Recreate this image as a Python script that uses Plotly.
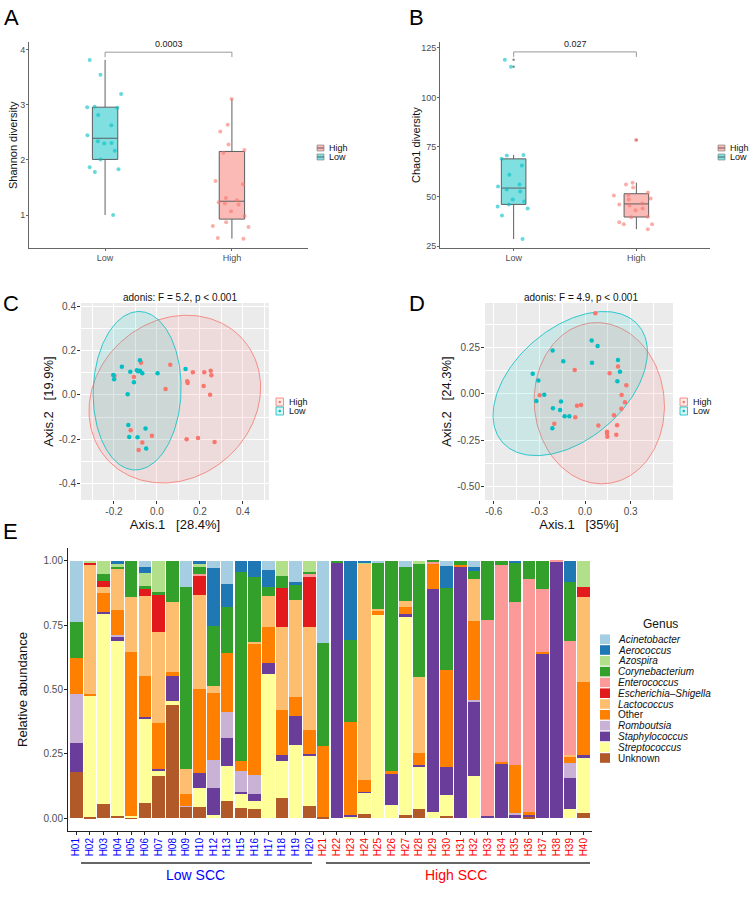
import numpy as np
import plotly.graph_objects as go

W, H = 750, 902
FONT = "Liberation Sans, Arial, Helvetica, sans-serif"
LOW_C = "#00BFC4"
HIGH_C = "#F8766D"
GREY_TXT = "#4D4D4D"

# ---------------- Panel A / B : alpha diversity ----------------
groups = ["Low", "High"]
shannon_low = [3.82, 3.55, 3.20, 2.96, 2.97, 2.95, 2.82, 2.63, 2.45, 2.34, 2.31, 2.30, 2.17, 2.01, 1.87, 1.83, 1.78, 1.00]
shannon_high = [3.11, 2.64, 2.52, 2.28, 2.18, 2.13, 1.62, 1.56, 1.31, 1.23, 1.27, 1.21, 1.19, 1.07, 0.98, 0.87, 0.80, 0.78, 0.58, 0.57]
chao1_low = [119, 115.5, 71, 70.7, 69, 65.6, 61, 56, 55, 53.5, 52.5, 48.5, 47.5, 46, 45, 44, 40.4, 28.5]
chao1_high = [78.5, 57, 56, 54.5, 52, 50.8, 50.5, 49, 48.5, 45.5, 46.5, 46, 44, 43, 39.8, 39.5, 37, 36, 36, 33.5]
p_shannon = "0.0003"
p_chao1 = "0.027"

# ---------------- Panel C / D : PCoA ----------------
c_low_x = [-0.079, -0.163, 0.133, -0.124, -0.093, -0.087, -0.079, -0.068, 0.003, -0.203, -0.199, -0.107, -0.136, -0.133, -0.053, -0.129, -0.090, -0.050]
c_low_y = [0.156, 0.127, 0.117, 0.105, 0.111, 0.107, 0.109, 0.098, 0.098, 0.090, 0.071, 0.057, 0.003, -0.135, -0.151, -0.189, -0.190, -0.240]
c_high_x = [-0.074, 0.062, 0.167, 0.220, 0.250, 0.253, -0.197, -0.107, 0.141, 0.143, 0.217, 0.040, 0.247, -0.122, -0.023, 0.138, 0.191, 0.268, -0.068, -0.085]
c_high_y = [0.145, 0.136, 0.102, 0.102, 0.109, 0.089, 0.087, 0.081, 0.062, 0.054, 0.040, 0.027, 0.001, -0.159, -0.183, -0.199, -0.193, -0.211, -0.214, -0.247]
d_low_x = [0.044, 0.083, -0.213, -0.143, 0.046, 0.217, 0.230, -0.344, -0.307, 0.213, -0.268, -0.320, -0.158, -0.211, -0.164, -0.134, -0.103, -0.215]
d_low_y = [0.287, 0.258, 0.233, 0.176, 0.168, 0.183, 0.120, 0.109, 0.072, 0.068, -0.004, -0.038, -0.041, -0.077, -0.086, -0.120, -0.120, -0.184]
d_high_x = [0.068, 0.217, -0.068, 0.162, 0.272, -0.298, 0.241, 0.263, -0.026, -0.053, 0.239, -0.064, 0.191, -0.202, 0.088, 0.211, 0.145, 0.145, 0.206, 0.147]
d_high_y = [0.434, 0.147, 0.129, 0.111, 0.047, -0.007, -0.005, -0.045, -0.059, -0.063, -0.079, -0.125, -0.115, -0.160, -0.170, -0.168, -0.203, -0.213, -0.219, -0.230]
c_title = "adonis: F = 5.2, p < 0.001"
d_title = "adonis: F = 4.9, p < 0.001"
c_xlab, c_ylab = "Axis.1\u00a0\u00a0\u00a0[28.4%]", "Axis.2\u00a0\u00a0\u00a0[19.9%]"
d_xlab, d_ylab = "Axis.1\u00a0\u00a0\u00a0[35%]", "Axis.2\u00a0\u00a0\u00a0[24.3%]"

# ---------------- Panel E : genus composition ----------------
samples_low = ["H01", "H02", "H03", "H04", "H05", "H06", "H07", "H08", "H09", "H10",
               "H12", "H13", "H15", "H16", "H17", "H18", "H19", "H20"]
samples_high = ["H%02d" % i for i in range(21, 41)]
samples = samples_low + samples_high

Acinetobacter = [0.236, 0, 0, 0, 0, 0.022, 0, 0, 0.102, 0, 0.026, 0.089, 0, 0, 0.038, 0, 0.084, 0,
                 0.32, 0, 0, 0, 0.006, 0, 0.026, 0, 0, 0.018, 0, 0.025, 0, 0, 0, 0, 0, 0, 0, 0]
Aerococcus = [0, 0, 0, 0.013, 0, 0.026, 0, 0, 0, 0.013, 0.227, 0.088, 0.044, 0.061, 0.065, 0, 0.009, 0,
              0, 0, 0.305, 0.005, 0, 0, 0, 0, 0, 0.086, 0, 0.013, 0, 0, 0.006, 0, 0, 0, 0.083, 0]
Azospira = [0, 0.008, 0.052, 0.009, 0, 0.049, 0.121, 0, 0, 0.009, 0, 0, 0, 0, 0, 0.057, 0, 0.042,
            0, 0, 0, 0.006, 0, 0, 0, 0.012, 0, 0, 0, 0, 0, 0, 0, 0, 0, 0, 0, 0.10]
Corynebacterium = [0.143, 0, 0.026, 0.006, 0.143, 0.012, 0.013, 0.161, 0.707, 0.029, 0.232, 0.182, 0.733, 0.256, 0.034, 0.049, 0.058, 0.009,
                   0.40, 0.006, 0.32, 0, 0.182, 0.816, 0.13, 0.438, 0.004, 0.32, 0.017, 0.034, 0.23, 0.018, 0.152, 0.07, 0.11, 0, 0.23, 0]
Enterococcus = [0, 0, 0, 0, 0, 0, 0, 0, 0, 0.006, 0, 0, 0, 0, 0, 0, 0, 0.013,
                0, 0, 0, 0, 0, 0, 0, 0, 0.008, 0, 0, 0, 0.761, 0.765, 0.634, 0.908, 0.246, 0.004, 0.44, 0]
Escherichia_Shigella = [0, 0.01, 0.022, 0, 0, 0.027, 0.143, 0, 0, 0.075, 0, 0, 0, 0, 0, 0.149, 0, 0.192,
                        0, 0, 0, 0, 0, 0, 0, 0, 0, 0, 0, 0, 0, 0, 0, 0, 0, 0, 0, 0.04]
Lactococcus = [0, 0.50, 0.025, 0.162, 0.214, 0.31, 0.354, 0.272, 0.099, 0.366, 0.03, 0, 0, 0.008, 0.122, 0.324, 0.379, 0.402,
               0, 0, 0, 0.838, 0.005, 0, 0.025, 0.294, 0, 0, 0, 0.162, 0, 0, 0, 0, 0, 0, 0.006, 0.33]
Other = [0.139, 0.006, 0.074, 0.097, 0.636, 0.16, 0.179, 0.017, 0.044, 0.326, 0.259, 0.228, 0.039, 0.508, 0.139, 0.175, 0.073, 0.093,
         0.274, 0, 0.363, 0.048, 0.017, 0.013, 0.026, 0.049, 0.097, 0.376, 0.008, 0.307, 0, 0.006, 0.187, 0.006, 0.004, 0, 0.026, 0.285]
Romboutsia = [0.189, 0, 0, 0.006, 0, 0, 0, 0, 0.004, 0, 0.11, 0.1, 0.084, 0.074, 0, 0, 0, 0,
              0, 0, 0, 0, 0, 0, 0, 0, 0, 0, 0, 0.009, 0, 0, 0.005, 0, 0, 0, 0.058, 0]
Staphylococcus = [0.113, 0, 0.006, 0.016, 0, 0.005, 0.008, 0.095, 0, 0.057, 0.104, 0.109, 0.004, 0.026, 0.044, 0.022, 0.114, 0.009,
                  0, 0.994, 0.005, 0.004, 0, 0.121, 0.013, 0.006, 0.869, 0.11, 0.975, 0.287, 0.009, 0.211, 0.016, 0.013, 0.64, 0.996, 0.122, 0.013]
Streptococcus = [0, 0.47, 0.741, 0.68, 0.004, 0.332, 0.018, 0.016, 0, 0.075, 0.012, 0.137, 0.057, 0.031, 0.559, 0.143, 0.283, 0.192,
                 0, 0, 0.006, 0.08, 0.79, 0.05, 0.767, 0.163, 0.022, 0.08, 0, 0.163, 0, 0, 0, 0, 0, 0, 0.035, 0.211]
Unknown = [0.18, 0.006, 0.054, 0.01, 0.004, 0.057, 0.165, 0.44, 0.044, 0.044, 0, 0.066, 0.039, 0.036, 0, 0.08, 0, 0.048,
           0.006, 0, 0, 0.018, 0, 0, 0.014, 0.036, 0, 0.009, 0, 0, 0, 0, 0, 0.003, 0, 0, 0, 0.021]

genus_names = ["Acinetobacter", "Aerococcus", "Azospira", "Corynebacterium", "Enterococcus",
               "Escherichia\u2013Shigella", "Lactococcus", "Other", "Romboutsia", "Staphylococcus",
               "Streptococcus", "Unknown"]
genus_values = [Acinetobacter, Aerococcus, Azospira, Corynebacterium, Enterococcus,
                Escherichia_Shigella, Lactococcus, Other, Romboutsia, Staphylococcus,
                Streptococcus, Unknown]
genus_colors = ["#A6CEE3", "#1F78B4", "#B2DF8A", "#33A02C", "#FB9A99", "#E31A1C",
                "#FDBF6F", "#FF7F00", "#CAB2D6", "#6A3D9A", "#FFFF99", "#B15928"]
genus_italic = [True, True, True, True, True, True, True, False, True, True, True, False]
for v in genus_values:
    assert len(v) == len(samples)


def fx(p):
    return p / W


def fy(p):
    return 1 - p / H


fig = go.Figure()

# ---------- boxplots ----------
def add_box(vals, pos, color, fill, xa, ya):
    fig.add_trace(go.Box(y=vals, x0=pos, width=0.2, fillcolor=fill,
                         line=dict(color="#5f5f5f", width=1), whiskerwidth=0,
                         boxpoints="outliers", pointpos=0, jitter=0,
                         marker=dict(color="#8a8a8a", size=2.5),
                         xaxis=xa, yaxis=ya, showlegend=False, hoverinfo="skip"))
    fig.add_trace(go.Box(y=vals, x0=pos, width=0.38, fillcolor="rgba(0,0,0,0)",
                         line=dict(color="rgba(0,0,0,0)", width=0), whiskerwidth=0,
                         boxpoints="all", pointpos=0, jitter=1,
                         marker=dict(color=color, size=4, opacity=0.6),
                         xaxis=xa, yaxis=ya, showlegend=False))

LOW_FILL = "rgba(0,191,196,0.5)"
HIGH_FILL = "rgba(248,118,109,0.5)"
add_box(shannon_low, 1, LOW_C, LOW_FILL, "x", "y")
add_box(shannon_high, 2, HIGH_C, HIGH_FILL, "x", "y")
add_box(chao1_low, 1, LOW_C, LOW_FILL, "x2", "y2")
add_box(chao1_high, 2, HIGH_C, HIGH_FILL, "x2", "y2")

# significance brackets
def bracket(xa, ya, ytop, ydrop, label):
    fig.add_shape(type="path", path=f"M 1,{ydrop} L 1,{ytop} L 2,{ytop} L 2,{ydrop}",
                  xref=xa, yref=ya, line=dict(color="#9a9a9a", width=1))
    fig.add_annotation(x=1.5, y=ytop, xref=xa, yref=ya, text=label, showarrow=False,
                       yanchor="bottom", yshift=1, font=dict(size=9, color="#222"))

bracket("x", "y", 3.96, 3.87, p_shannon)
bracket("x2", "y2", 123, 120.5, p_chao1)

# ---------- PCoA ----------
def ellipse(x, y, level=0.95, npts=240):
    x = np.asarray(x, float)
    y = np.asarray(y, float)
    n = len(x)
    d2 = n - 1
    fq = (d2 / 2.0) * ((1 - level) ** (-2.0 / d2) - 1)
    r = np.sqrt(2 * fq)
    vals, vecs = np.linalg.eigh(np.cov(x, y))
    t = np.linspace(0, 2 * np.pi, npts)
    circ = np.vstack([np.cos(t), np.sin(t)])
    pts = vecs @ (np.sqrt(vals)[:, None] * circ) * r
    return x.mean() + pts[0], y.mean() + pts[1]

def add_pcoa(hx, hy, lx, ly, xa, ya):
    for (px, py, col, fc) in [(hx, hy, HIGH_C, "rgba(248,118,109,0.13)"),
                              (lx, ly, LOW_C, "rgba(0,191,196,0.13)")]:
        ex, ey = ellipse(px, py)
        fig.add_trace(go.Scatter(x=ex, y=ey, mode="lines", fill="toself", fillcolor=fc,
                                 line=dict(color=col, width=0.8), xaxis=xa, yaxis=ya,
                                 showlegend=False, hoverinfo="skip"))
    for (px, py, col) in [(hx, hy, HIGH_C), (lx, ly, LOW_C)]:
        fig.add_trace(go.Scatter(x=px, y=py, mode="markers",
                                 marker=dict(color=col, size=4.5),
                                 xaxis=xa, yaxis=ya, showlegend=False))

add_pcoa(c_high_x, c_high_y, c_low_x, c_low_y, "x3", "y3")
add_pcoa(d_high_x, d_high_y, d_low_x, d_low_y, "x4", "y4")

# ---------- stacked bars ----------
for name, vals, col in reversed(list(zip(genus_names, genus_values, genus_colors))):
    fig.add_trace(go.Bar(x=samples, y=vals, name=name, marker=dict(color=col, line=dict(width=0)),
                         width=0.92, xaxis="x5", yaxis="y5", showlegend=False))

# ---------- axes ----------
def box_axes(xa, ya, xd, yd, yr, yt):
    common = dict(showline=True, linecolor="#666", linewidth=1, ticks="outside", ticklen=2,
                  tickcolor="#666", tickfont=dict(size=9, color=GREY_TXT), showgrid=False,
                  zeroline=False, ticklabelstandoff=-1)
    fig.layout[xa] = dict(domain=xd, range=[0.4, 2.6], tickvals=[1, 2], ticktext=groups,
                          anchor=ya.replace("axis", ""), type="linear", **common)
    fig.layout[ya] = dict(domain=yd, range=yr, tickvals=yt, anchor=xa.replace("axis", ""),
                          **common)

box_axes("xaxis", "yaxis", [fx(29), fx(308)], [fy(248), fy(42)], [0.4, 4.145], [1, 2, 3, 4])
box_axes("xaxis2", "yaxis2", [fx(440), fx(710)], [fy(248), fy(42)], [24, 128],
         [25, 50, 75, 100, 125])

def pcoa_axes(xa, ya, xd, yd, xr, yr, xt, yt, xtitle, ytitle):
    common = dict(showline=False, ticks="outside", ticklen=3, tickcolor="#333",
                  tickfont=dict(size=10, color=GREY_TXT), showgrid=True, gridcolor="white",
                  gridwidth=1.1, zeroline=False, ticklabelstandoff=-1)
    fig.layout[xa] = dict(domain=xd, range=xr, tickvals=xt[0], ticktext=xt[1],
                          anchor=ya.replace("axis", ""),
                          minor=dict(tickvals=xt[2], showgrid=True, gridcolor="white",
                                     gridwidth=0.5, ticks=""),
                          title=dict(text=xtitle, font=dict(size=13, color="#111"), standoff=2),
                          **common)
    fig.layout[ya] = dict(domain=yd, range=yr, tickvals=yt[0], ticktext=yt[1],
                          anchor=xa.replace("axis", ""),
                          minor=dict(tickvals=yt[2], showgrid=True, gridcolor="white",
                                     gridwidth=0.5, ticks=""),
                          title=dict(text=ytitle, font=dict(size=13, color="#111"), standoff=2),
                          **common)

pcoa_axes("xaxis3", "yaxis3", [fx(81), fx(269)], [fy(500), fy(303)],
          [-0.353, 0.521], [-0.472, 0.4135],
          ([-0.2, 0, 0.2, 0.4], ["-0.2", "0.0", "0.2", "0.4"], [-0.3, -0.1, 0.1, 0.3, 0.5]),
          ([-0.4, -0.2, 0, 0.2, 0.4], ["-0.4", "-0.2", "0.0", "0.2", "0.4"], [-0.3, -0.1, 0.1, 0.3]),
          c_xlab, c_ylab)
pcoa_axes("xaxis4", "yaxis4", [fx(485), fx(673)], [fy(500), fy(303)],
          [-0.658, 0.579], [-0.570, 0.489],
          ([-0.6, -0.3, 0, 0.3], ["-0.6", "-0.3", "0.0", "0.3"], [-0.45, -0.15, 0.15, 0.45]),
          ([-0.5, -0.25, 0, 0.25], ["-0.50", "-0.25", "0.00", "0.25"], [-0.375, -0.125, 0.125, 0.375]),
          d_xlab, d_ylab)

tick_txt = (['<span style="color:#0000FF">%s</span>' % s for s in samples_low] +
            ['<span style="color:#FF0000">%s</span>' % s for s in samples_high])
fig.layout["xaxis5"] = dict(domain=[fx(68), fx(592)], range=[-0.6, len(samples) - 0.4],
                            type="category", tickvals=samples, ticktext=tick_txt, tickangle=-90,
                            tickfont=dict(size=10), showline=True, linecolor="#222", linewidth=1,
                            ticks="outside", ticklen=3, tickcolor="#222", showgrid=False,
                            zeroline=False, anchor="y5", ticklabelstandoff=-1)
fig.layout["yaxis5"] = dict(domain=[fy(831), fy(548)], range=[-0.05, 1.05],
                            tickvals=[0, 0.25, 0.5, 0.75, 1.0],
                            ticktext=["0.00", "0.25", "0.50", "0.75", "1.00"],
                            tickfont=dict(size=10, color=GREY_TXT), showline=True, linecolor="#222",
                            linewidth=1, ticks="outside", ticklen=3, tickcolor="#222",
                            showgrid=False, zeroline=False, anchor="x5", ticklabelstandoff=-1,
                            title=dict(text="Relative abundance", font=dict(size=13, color="#111"),
                                       standoff=12))

# grey panel backgrounds for C and D
for xa, ya in [("x3", "y3"), ("x4", "y4")]:
    fig.add_shape(type="rect", xref=f"{xa} domain", yref=f"{ya} domain", x0=0, x1=1, y0=0, y1=1,
                  fillcolor="#EBEBEB", line=dict(width=0), layer="below")

# ---------- annotations / manual legends ----------
def txt(x, y, s, size=10, color="#111", xanchor="left", **kw):
    fig.add_annotation(x=fx(x), y=fy(y), xref="paper", yref="paper", text=s, showarrow=False,
                       xanchor=xanchor, yanchor="middle", font=dict(size=size, color=color),
                       borderpad=0, **kw)

def rect(x0, x1, y0, y1, fill, line_col, lw=0.8):
    fig.add_shape(type="rect", xref="paper", yref="paper", x0=fx(x0), x1=fx(x1), y0=fy(y1), y1=fy(y0),
                  fillcolor=fill, line=dict(color=line_col, width=lw))

# A / B y-axis titles
txt(13, 145, "Shannon diversity", size=11, xanchor="center", textangle=-90)
txt(416, 145, "Chao1 diversity", size=11, xanchor="center", textangle=-90)

# panel letters
for letter, x, y in [("A", 3, 18), ("B", 408, 18), ("C", 2, 303), ("D", 408, 303), ("E", 2, 531)]:
    txt(x, y, letter, size=22, color="#000")

# C / D titles
txt(180, 297, c_title, size=10, xanchor="center")
txt(581, 297, d_title, size=10, xanchor="center")

# A / B legends (boxplot glyph)
for kx in [317, 718]:
    for (lab, cy, fill) in [("High", 148, HIGH_FILL), ("Low", 157, LOW_FILL)]:
        rect(kx, kx + 7, cy - 3, cy + 3, fill, "#777", 0.6)
        fig.add_shape(type="line", xref="paper", yref="paper", x0=fx(kx), x1=fx(kx + 7),
                      y0=fy(cy), y1=fy(cy), line=dict(color="#444", width=0.8))
        txt(kx + 11, cy, lab, size=9)

# C / D legends (point glyph)
for kx in [276, 680]:
    for (lab, cy, col, fill) in [("High", 402, HIGH_C, "rgba(248,118,109,0.15)"),
                                 ("Low", 411, LOW_C, "rgba(0,191,196,0.15)")]:
        rect(kx, kx + 7.5, cy - 4, cy + 4, fill, col, 0.8)
        fig.add_shape(type="circle", xref="paper", yref="paper", x0=fx(kx + 2.5), x1=fx(kx + 5),
                      y0=fy(cy + 1.25), y1=fy(cy - 1.25), fillcolor=col, line=dict(width=0))
        txt(kx + 12, cy, lab, size=9)

# Genus legend
txt(660, 624, "Genus", size=12, xanchor="center")
for i, (name, col, it) in enumerate(zip(genus_names, genus_colors, genus_italic)):
    cy = 639.2 + 10.8 * i
    rect(600, 610, cy - 4.8, cy + 4.8, col, col, 0)
    txt(617, cy, f"<i>{name}</i>" if it else name, size=10)

# group bars under x axis of E
for (x0, x1, col, lab, xc) in [(81, 312, "#0000FF", "Low SCC", 196),
                               (326, 590, "#FF0000", "High SCC", 456)]:
    fig.add_shape(type="line", xref="paper", yref="paper", x0=fx(x0), x1=fx(x1),
                  y0=fy(863), y1=fy(863), line=dict(color="#333", width=1.3))
    txt(xc, 875, lab, size=14, color=col, xanchor="center")

fig.update_layout(width=W, height=H, margin=dict(l=0, r=0, t=0, b=0),
                  paper_bgcolor="white", plot_bgcolor="white", barmode="stack",
                  boxmode="overlay", showlegend=False, template="none",
                  font=dict(family=FONT, size=10, color="#111"))

fig.write_html("out.html", config={"displayModeBar": False},
               post_script="document.body.style.margin='0px';document.body.style.padding='0px';")
